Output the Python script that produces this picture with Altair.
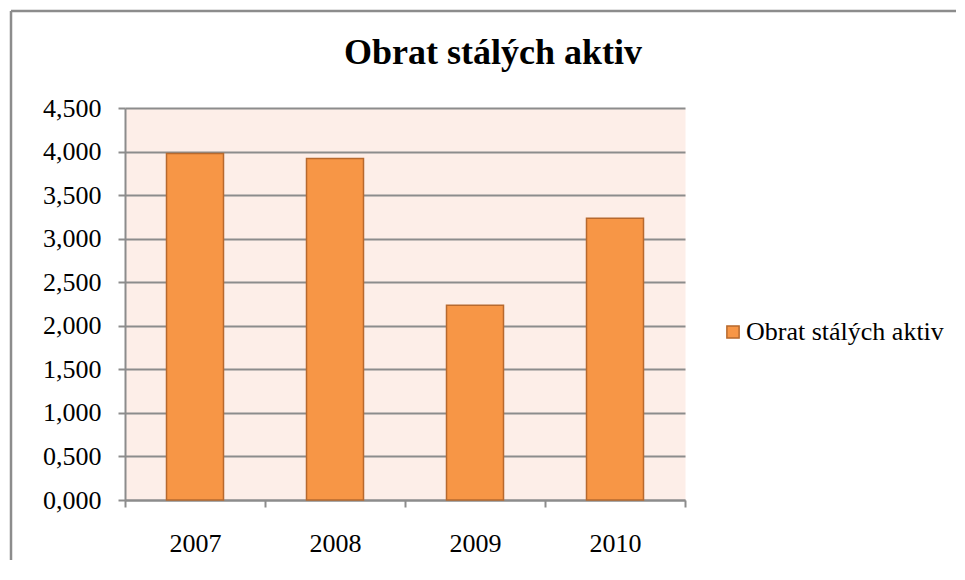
import altair as alt
import pandas as pd

years = ["2007", "2008", "2009", "2010"]
values = [3.977, 3.919, 2.236, 3.234]
series_name = "Obrat stálých aktiv"
y_ticks = [0, 0.5, 1.0, 1.5, 2.0, 2.5, 3.0, 3.5, 4.0, 4.5]

df = pd.DataFrame({"year": years, "value": values, "series": [series_name] * len(years)})

FONT = "Liberation Serif, Times New Roman, serif"
GRAY = "#8c8c8c"
LBL = 26

bars = alt.Chart(df).mark_bar(size=57, stroke="#B7692E", strokeWidth=1.5).encode(
    x=alt.X("year:N", title=None,
            scale=alt.Scale(paddingInner=0, paddingOuter=0),
            axis=alt.Axis(tickBand="extent", labelAngle=0, labelFont=FONT, labelFontSize=LBL,
                          labelColor="black", labelPadding=23, tickSize=7, tickColor=GRAY,
                          tickWidth=2, domainColor=GRAY, domainWidth=2, grid=False)),
    y=alt.Y("value:Q", title=None,
            scale=alt.Scale(domain=[0, 4.5], nice=False),
            axis=alt.Axis(values=y_ticks,
                          labelExpr="replace(format(datum.value, '.3f'), '.', ',')",
                          labelFont=FONT, labelFontSize=LBL, labelColor="black",
                          labelPadding=17, tickSize=7, tickColor=GRAY, tickWidth=2,
                          domainColor=GRAY, domainWidth=2, grid=True, gridColor=GRAY,
                          gridWidth=2)),
    color=alt.Color("series:N", scale=alt.Scale(range=["#F79646"]),
                    legend=alt.Legend(title=None, orient="none", legendX=595, legendY=211,
                                      symbolType="square", symbolSize=150,
                                      symbolStrokeColor="#B7692E", symbolStrokeWidth=1.5,
                                      labelFont=FONT, labelFontSize=LBL, labelColor="black",
                                      labelOffset=0, labelLimit=400)),
)

title_mark = alt.Chart(alt.Data(values=[{"t": series_name}])).mark_text(
    font=FONT, fontSize=36, fontWeight="bold", color="black", align="center",
    baseline="alphabetic"
).encode(text="t:N", x=alt.value(368), y=alt.value(-44))

frame_top = alt.Chart(alt.Data(values=[{}])).mark_rule(color=GRAY, strokeWidth=2.5).encode(
    x=alt.value(-114), x2=alt.value(900), y=alt.value(-97)
)
frame_left = alt.Chart(alt.Data(values=[{}])).mark_rule(color=GRAY, strokeWidth=2.5).encode(
    x=alt.value(-114), y=alt.value(-97), y2=alt.value(500)
)

chart = alt.layer(bars, title_mark, frame_top, frame_left).properties(
    width=560, height=392,
    autosize=alt.AutoSizeParams(type="none"),
    padding={"left": 117, "top": 100, "right": 271, "bottom": 60},
).configure(background="white").configure_view(fill="#FDEEE8", stroke="transparent")

chart.save("out.html", embed_options={"renderer": "svg", "actions": False})
